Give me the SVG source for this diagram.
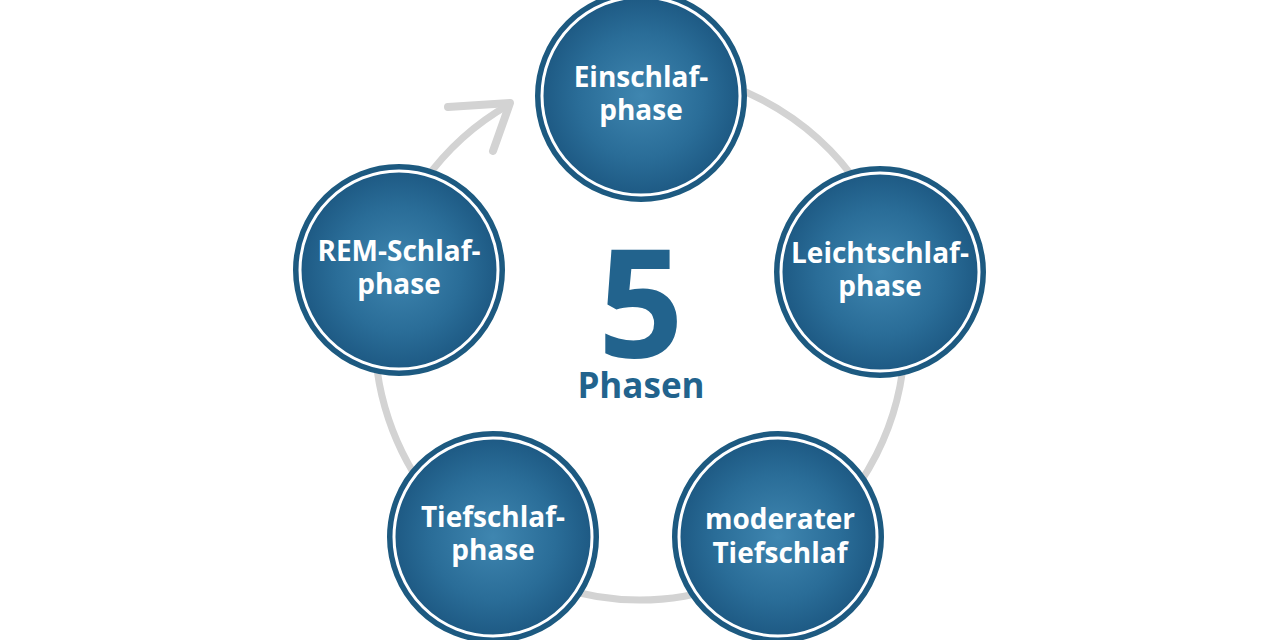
<svg xmlns="http://www.w3.org/2000/svg" width="1280" height="640" viewBox="0 0 1280 640">
<defs>
<radialGradient id="g" cx="50%" cy="50%" r="50%">
<stop offset="0" stop-color="#3f86b0"/>
<stop offset="0.6" stop-color="#2a6d98"/>
<stop offset="1" stop-color="#1c5781"/>
</radialGradient>
<style>
.ring{fill:url(#g);stroke:#1d5a80;stroke-width:4}
.inner{fill:none;stroke:#ffffff;stroke-width:3}
.lbl{font-family:"Open Sans","DejaVu Sans",sans-serif;font-weight:700;font-size:28px;fill:#ffffff;text-anchor:middle}
.conn{fill:none;stroke:#d3d3d3;stroke-width:7;stroke-linecap:butt}
.head{fill:none;stroke:#d3d3d3;stroke-width:8;stroke-linecap:round;stroke-linejoin:round}
.big{font-family:"Open Sans","DejaVu Sans",sans-serif;font-weight:700;fill:#22638d;text-anchor:middle}
</style>
</defs>
<rect width="1280" height="640" fill="#ffffff"/>
<g id="connectors">
<path class="conn" d="M686,74 A265,265 0 1 1 510,104"/>
<polyline class="head" points="448,107 510,103 493,151"/>
</g>
<g id="center">
<text class="big" x="641" y="358" font-size="150">5</text>
<text class="big" x="641" y="398" font-size="35">Phasen</text>
</g>
<g id="n1">
<circle class="ring" cx="641" cy="96" r="104"/>
<circle class="inner" cx="641" cy="96" r="99"/>
<text class="lbl" x="641" y="87">Einschlaf-</text>
<text class="lbl" x="641" y="120">phase</text>
</g>
<g id="n2">
<circle class="ring" cx="880" cy="272" r="104"/>
<circle class="inner" cx="880" cy="272" r="99"/>
<text class="lbl" x="880" y="263">Leichtschlaf-</text>
<text class="lbl" x="880" y="296">phase</text>
</g>
<g id="n3">
<circle class="ring" cx="778" cy="537" r="104"/>
<circle class="inner" cx="778" cy="537" r="99"/>
<text class="lbl" x="780" y="529">moderater</text>
<text class="lbl" x="780" y="563">Tiefschlaf</text>
</g>
<g id="n4">
<circle class="ring" cx="493" cy="537" r="104"/>
<circle class="inner" cx="493" cy="537" r="99"/>
<text class="lbl" x="493" y="527">Tiefschlaf-</text>
<text class="lbl" x="493" y="560">phase</text>
</g>
<g id="n5">
<circle class="ring" cx="399" cy="270" r="104"/>
<circle class="inner" cx="399" cy="270" r="99"/>
<text class="lbl" x="399" y="261">REM-Schlaf-</text>
<text class="lbl" x="399" y="294">phase</text>
</g>
</svg>
